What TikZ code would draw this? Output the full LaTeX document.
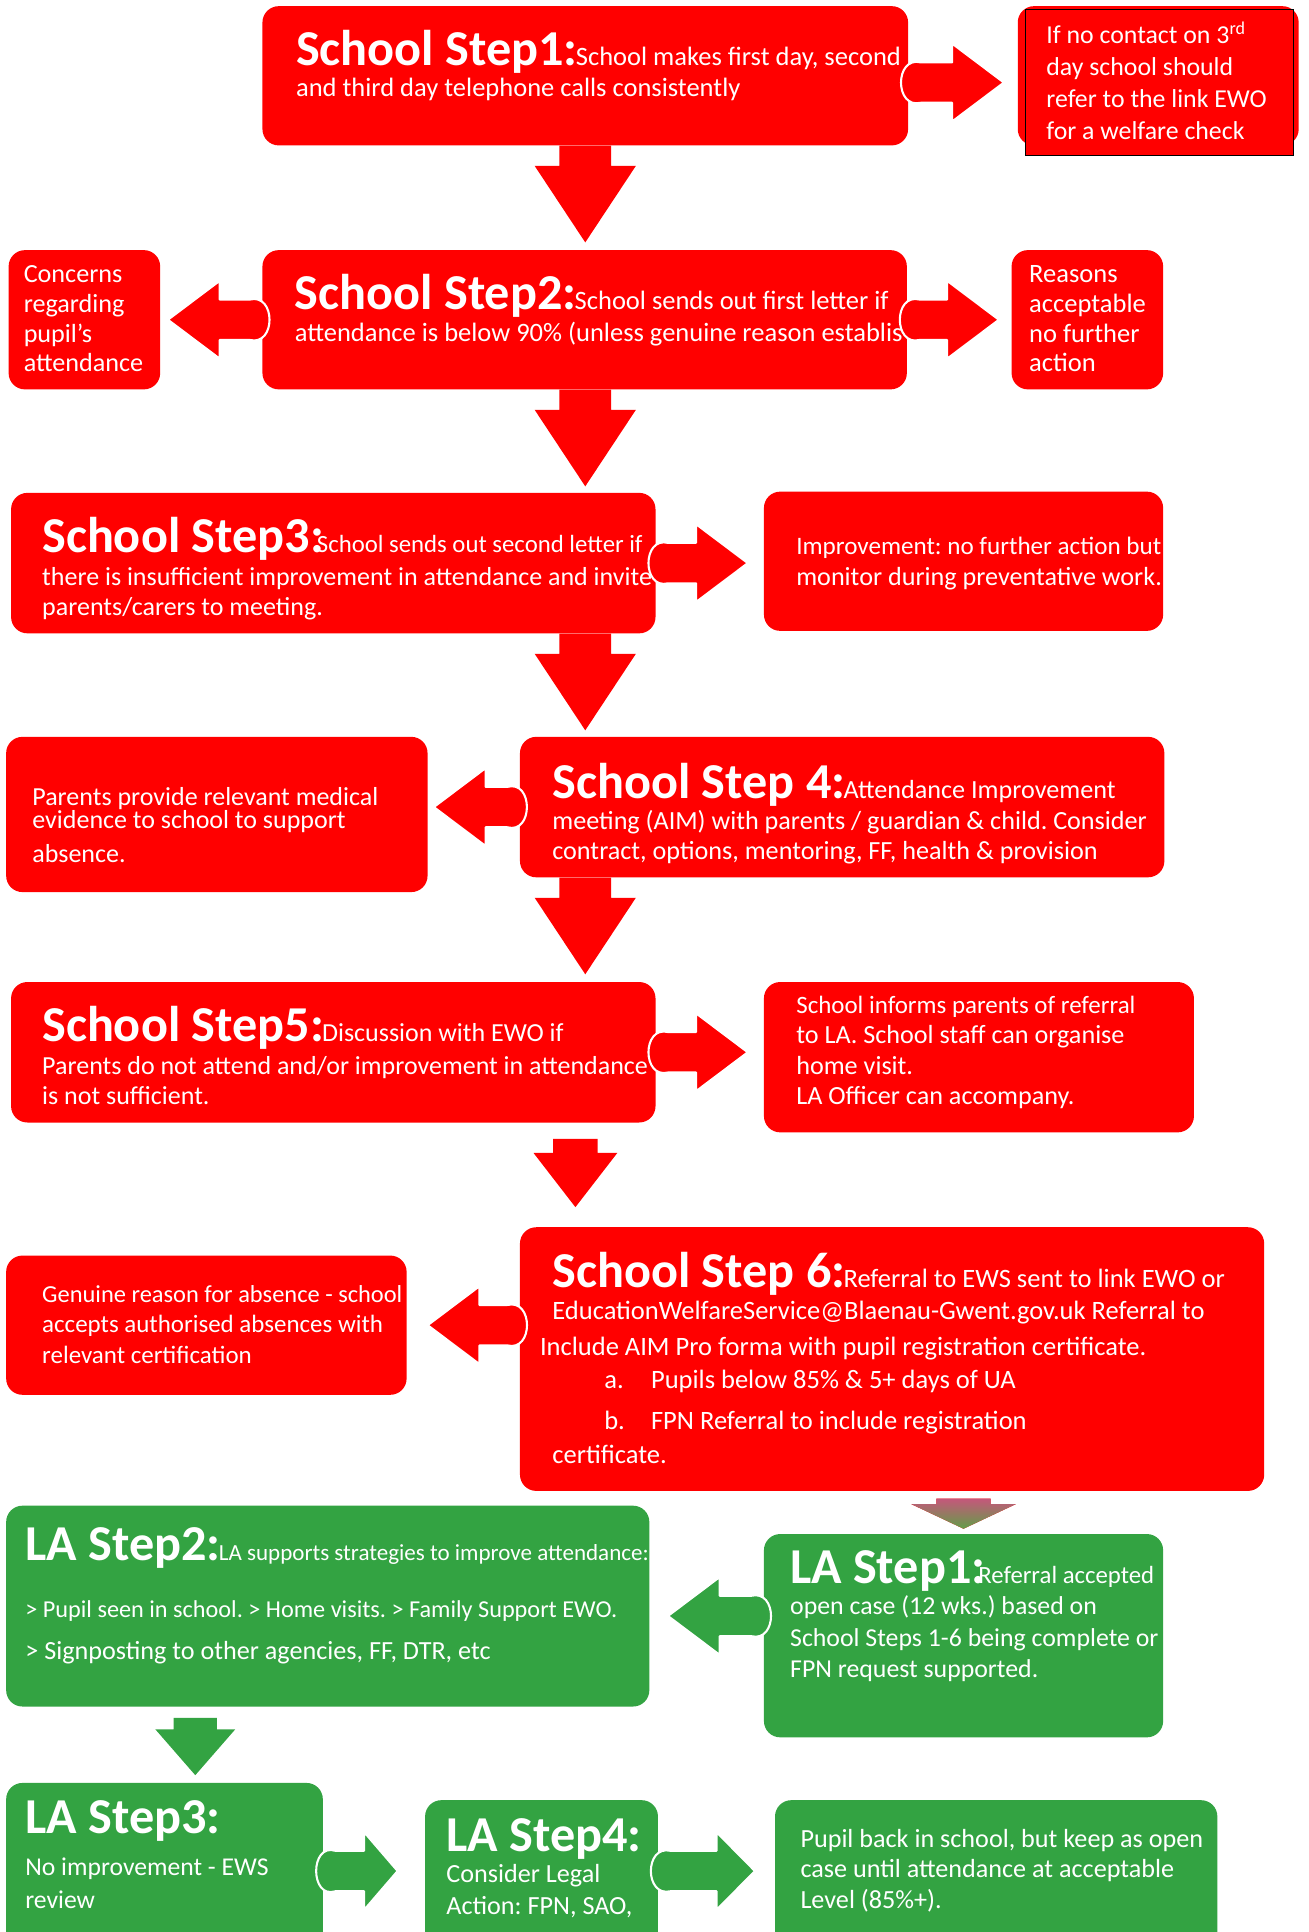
\documentclass[tikz,border=0pt]{standalone}
\usepackage{fontspec}
\setmainfont{Carlito}
\usetikzlibrary{calc, fit}
\definecolor{sred}{RGB}{255,0,0}
\definecolor{lagreen}{RGB}{51,163,66}
\definecolor{flowpink}{RGB}{221,70,135}
\definecolor{flowgreen}{RGB}{98,158,72}
\setlength{\lineskiplimit}{-30pt}
\frenchspacing
\newcommand{\sthead}[1]{{\fontsize{29}{17.6}\selectfont\bfseries #1}\kern-1pt}
\newcommand{\smallline}[2]{{\fontsize{#1}{17.6}\selectfont #2}}

\tikzset{
  ashaft/.store in=\bkshaft, ahead/.store in=\bkhead, alen/.store in=\bklen,
  abulge/.store in=\bkbulge, aoff/.store in=\bkoff, agap/.store in=\bkgap,
  blockarrow/.style={line join=round, to path={
    ($(\tikztostart)!\bkoff!(\tikztotarget)$) coordinate (ba)
    ($(\tikztotarget)!\bkgap!(\tikztostart)$) coordinate (bt)
    ($(bt)!\bklen!(ba)$) coordinate (bn)
    ($(ba)!\bkshaft!90:(bt)$) coordinate (bp)
    -- ($(bn)!\bkshaft!90:(bt)$) -- ($(bn)!\bkhead!90:(bt)$) -- (bt)
    -- ($(bn)!\bkhead!-90:(bt)$) -- ($(bn)!\bkshaft!-90:(bt)$)
    -- ($(ba)!\bkshaft!-90:(bt)$) coordinate (bq)
    .. controls ($(bq)!\bkbulge!180:(bt)$) and ($(bp)!\bkbulge!180:(bt)$) .. (bp) -- cycle}},
  sidearrow/.style={blockarrow, ashaft=0.41cm, ahead=0.79cm, alen=1.05cm, abulge=0.55cm,
    aoff=0.25cm, agap=0.3cm, fill=sred, draw=white, line width=1.2pt},
  downarrow/.style={blockarrow, ashaft=0.525cm, ahead=1.025cm, alen=1.55cm, abulge=0pt,
    aoff=0pt, agap=0.15cm, fill=sred}
}

\begin{document}
\begin{tikzpicture}[x=0.025cm, y=-0.025cm,
    redbox/.style={fill=sred, rounded corners=0.33cm, inner sep=0pt},
    greenbox/.style={redbox, fill=lagreen},
    boxtext/.style={text=white, font=\fontsize{15.1}{17.6}\selectfont, align=left, inner sep=0pt, anchor=base west},
    widetext/.style={boxtext, font=\fontsize{15.3}{17.6}\selectfont}]

  \useasboundingbox (0,0) rectangle (1062,1568);
  \clip (0,0) rectangle (1062,1568);

  \node[redbox, fit={(213,5) (737,118)}] (s1) {};
  \node[redbox, fit={(826,5) (1054,118)}] (r1) {};
  \node[fill=sred, draw=black, line width=0.6pt, inner sep=0pt, fit={(832,8) (1050,126)}] (r1b) {};
  \node[redbox, fit={(7,203) (130,316)}] (l2) {};
  \node[redbox, fit={(213,203) (736,316)}] (s2) {};
  \node[redbox, fit={(821,203) (944,316)}] (r2) {};
  \node[redbox, fit={(9,400) (532,514)}] (s3) {};
  \node[redbox, fit={(620,399) (944,512)}] (r3) {};
  \node[redbox, fit={(5,598) (347,724)}] (l4) {};
  \node[redbox, fit={(422,598) (945,712)}] (s4) {};
  \node[redbox, fit={(9,797) (532,911)}] (s5) {};
  \node[redbox, fit={(620,797) (969,919)}] (r5) {};
  \node[redbox, fit={(5,1019) (330,1132)}] (l6) {};
  \node[redbox, fit={(422,996) (1026,1210)}] (s6) {};
  \node[greenbox, fit={(620,1245) (944,1410)}] (la1) {};
  \node[greenbox, fit={(5,1222) (527,1385)}] (la2) {};
  \node[greenbox, fit={(5,1447) (262,1590)}] (la3) {};
  \node[greenbox, fit={(345,1461) (534,1590)}] (la4) {};
  \node[greenbox, fit={(629,1461) (988,1590)}] (la5) {};

  \node[widetext] (s1t) at (240,78.5) {\sthead{School Step1:}School makes first day, second\\[0.5pt]and third day telephone calls consistently};
  \node[boxtext, font=\fontsize{14.9}{17.6}\selectfont] (r1t) at (849,113.1) {If no contact on 3\textsuperscript{rd}\\[0.85pt]day school should\\[0.85pt]refer to the link EWO\\[0.85pt]for a welfare check};
  \node[boxtext] (l2t) at (19,301.8) {Concerns\\[-0.5pt]regarding\\[-0.5pt]pupil’s\\[-0.5pt]attendance};
  \node[widetext] (s2t) at (239,277.2) {\sthead{School Step2:}School sends out first letter if\\[0.85pt]attendance is below 90\% (unless genuine reason establis};
  \node[widetext] (r2t) at (835,301.8) {Reasons\\[-0.5pt]acceptable\\[-0.5pt]no further\\[-0.5pt]action};
  \node[boxtext, font=\fontsize{15}{17.6}\selectfont] (s3t) at (34,499.4) {\sthead{School Step3:}\kern-3pt\smallline{14.3}{School sends out second letter if}\\[1.2pt]there is insufficient improvement in attendance and invite\\[-0.3pt]parents/carers to meeting.};
  \node[boxtext] (r3t) at (646,475) {\smallline{14.5}{Improvement: no further action but}\\monitor during preventative work.};
  \node[boxtext, font=\fontsize{15}{17.6}\selectfont] (l4t) at (26,699.6) {Parents provide relevant medical\\[-4pt]evidence to school to support\\[1.5pt]absence.};
  \node[boxtext] (s4t) at (448,697.7) {\sthead{School Step 4:}Attendance Improvement\\meeting (AIM) with parents / guardian \& child. Consider\\contract, options, mentoring, FF, health \& provision};
  \node[boxtext, font=\fontsize{15}{17.6}\selectfont] (s5t) at (34,896.4) {\sthead{School Step5:}Discussion with EWO if\\[1pt]Parents do not attend and/or improvement in attendance\\is not sufficient.};
  \node[boxtext] (r5t) at (646,896.4) {\smallline{14.4}{School informs parents of referral}\\to LA. School staff can organise\\home visit.\\LA Officer can accompany.};
  \node[boxtext, font=\fontsize{14.4}{17.6}\selectfont] (l6t) at (34,1106.4) {\smallline{14.1}{Genuine reason for absence - school}\\accepts authorised absences with\\relevant certification};
  \node[widetext] (s6t) at (448,1187.7) {\sthead{School Step 6:}Referral to EWS sent to link EWO or\\[0.6pt]EducationWelfareService@Blaenau-Gwent.gov.uk Referral to\\[3.5pt]\hspace*{-7.1pt}Include AIM Pro forma with pupil registration certificate.\\[1pt]\hspace*{30pt}\makebox[27pt][l]{a.}Pupils below 85\% \& 5+ days of UA\\[6.3pt]\hspace*{30pt}\makebox[27pt][l]{b.}FPN Referral to include registration\\[2pt]certificate.};
  \node[boxtext, font=\fontsize{14.9}{17.6}\selectfont] (la1t) at (641,1361.3) {\sthead{LA Step1:}\kern-3pt\smallline{14.3}{Referral accepted}\\[0.4pt]open case (12 wks.) based on\\[0.4pt]School Steps 1-6 being complete or\\[0.4pt]FPN request supported.};
  \node[boxtext] (la2t) at (20.3,1346.7) {\sthead{LA Step2:}\smallline{13.3}{LA supports strategies to improve attendance:}\\[15.7pt]\smallline{14}{> Pupil seen in school. > Home visits. > Family Support EWO.}\\[6.4pt]> Signposting to other agencies, FF, DTR, etc};
  \node[boxtext, font=\fontsize{14.8}{17.6}\selectfont] (la3t) at (20.3,1548.6) {\sthead{LA Step3:}\\[6.5pt]No improvement - EWS\\[1.35pt]review};
  \node[boxtext] (la4t) at (362,1554.1) {\sthead{LA Step4:}\\[0.3pt]Consider Legal\\[1.3pt]Action: FPN, SAO,};
  \node[boxtext] (la5t) at (649.4,1548.6) {Pupil back in school, but keep as open\\case until attendance at acceptable\\Level (85\%+).};

  \coordinate (spine) at (475,0);
  \coordinate (spine5) at (467,0);
  \coordinate (lspine) at (158.5,0);
  \coordinate (la1l) at ([yshift=0.4cm]la1.west);

  \path[sidearrow, agap=0.42cm] (s1.east |- r1b.west) to (r1b.west);
  \path[sidearrow, agap=0.15cm] (s2.west) to (l2.east);
  \path[sidearrow, agap=0.25cm] (s2.east) to (r2.west);
  \path[sidearrow, agap=0.32cm] (s3.east) to (s3.east -| r3.west);
  \path[sidearrow, agap=0.12cm] (s4.west) to (s4.west -| l4.east);
  \path[sidearrow, agap=0.32cm] (s5.east) to (s5.east -| r5.west);
  \path[sidearrow, agap=0.42cm] (s6.west |- l6.east) to (l6.east);
  \path[sidearrow, fill=lagreen, agap=0.37cm] (la1l) to (la1l -| la2.east);
  \path[sidearrow, fill=lagreen, alen=0.68cm, agap=0.55cm] (la3.east) to (la3.east -| la4.west);
  \path[sidearrow, fill=lagreen, alen=0.78cm, agap=0.4cm] (la4.east |- la3.east) to (la3.east -| la5.west);

  \path[downarrow] (s1.south -| spine) to (s2.north -| spine);
  \path[downarrow, agap=0.125cm] (s2.south -| spine) to (s3.north -| spine);
  \path[downarrow, agap=0.125cm] (s3.south -| spine) to (s4.north -| spine);
  \path[downarrow] (s4.south -| spine) to (s5.north -| spine);
  \path[downarrow, ashaft=0.45cm, ahead=0.85cm, alen=1.1cm, aoff=0.325cm, agap=0.4cm] (s5.south -| spine5) to (s6.north -| spine5);
  \path[downarrow, ashaft=0.55cm, ahead=1.06cm, alen=0.5cm, aoff=0.15cm, agap=0.1cm, top color=flowpink, bottom color=flowgreen] (s6.south -| la1.north) to (la1.north);
  \path[downarrow, fill=lagreen, ashaft=0.44cm, ahead=0.81cm, alen=0.93cm, aoff=0.225cm, agap=0.15cm] (la2.south -| lspine) to (la3.north -| lspine);
\end{tikzpicture}
\end{document}
